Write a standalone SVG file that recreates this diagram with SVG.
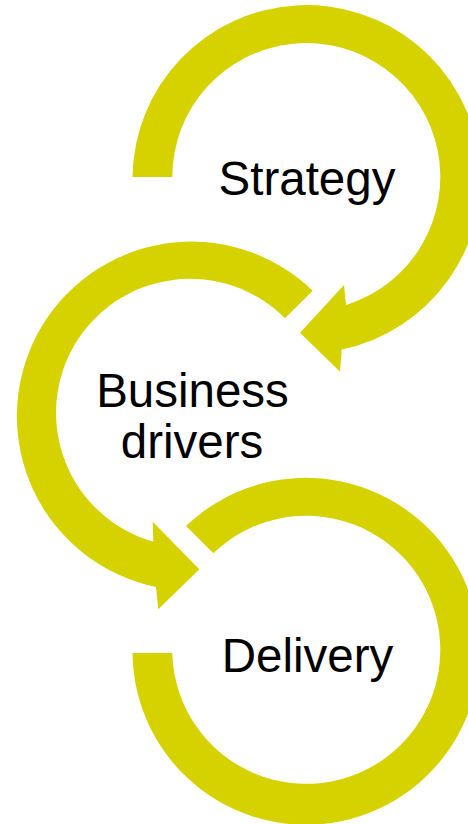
<svg xmlns="http://www.w3.org/2000/svg" width="468" height="824" viewBox="0 0 468 824">
  <style>
    .arrow { fill: #D5D200; stroke: none; }
    .label { font-family: "Liberation Sans", Arial, sans-serif; font-size: 47.5px; fill: #000000; text-anchor: middle; }
  </style>
  <rect width="468" height="824" fill="#FFFFFF"/>
  <g id="connectors">
    <path id="arrow-strategy" class="arrow" d="M132.5,177 A174,174 0 1 1 341.7,349.5 L340,371.7 L300,332.7 L344,285 L346,305 A134,134 0 1 0 172.3,177 Z"/>
    <path id="arrow-business" class="arrow" d="M312.7,290.7 A174.5,174.5 0 1 0 156,587 L158.3,609.3 L199.3,569.3 L152.7,521.7 L153.3,541.7 A134,134 0 1 1 285,318.3 Z"/>
    <path id="arrow-delivery" class="arrow" d="M186,526 A173.5,173.5 0 1 1 132.5,653 L172.3,653 A134,134 0 1 0 213.3,553.3 Z"/>
  </g>
  <g id="node-strategy">
    <text class="label" x="307" y="195">Strategy</text>
  </g>
  <g id="node-business-drivers">
    <text class="label" x="192.5" y="407">Business</text>
    <text class="label" x="192" y="457.5">drivers</text>
  </g>
  <g id="node-delivery">
    <text class="label" x="307.5" y="672">Delivery</text>
  </g>
</svg>
